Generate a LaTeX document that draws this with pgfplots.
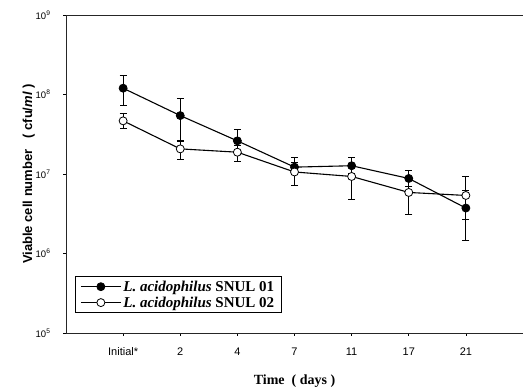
\documentclass[border=0pt]{standalone}
\usepackage{fontspec}
\setmainfont{Liberation Serif}
\setsansfont{Liberation Sans}
\usepackage{pgfplots}
\pgfplotsset{compat=1.18}
\begin{document}
\begin{tikzpicture}
\begin{axis}[
  scale only axis,
  width=457pt, height=318pt,
  ymode=log,
  ymin=1e5, ymax=1e9,
  xmin=-1, xmax=7,
  axis x line=box, axis y line=left,
  axis line style={-, line width=0.9pt, black!85},
  xtick={0,1,2,3,4,5,6},
  xticklabels={Initial*,2,4,7,11,17,21},
  x tick label style={font=\sffamily\fontsize{11}{12}\selectfont, yshift=-8pt},
  ytick={1e5,1e6,1e7,1e8,1e9},
  yticklabels={10\textsuperscript{5},10\textsuperscript{6},10\textsuperscript{7},10\textsuperscript{8},10\textsuperscript{9}},
  y tick label style={font=\sffamily\fontsize{9.5}{10}\selectfont, xshift=-9pt},
  yminorticks=false,
  tick align=outside,
  major tick length=3pt,
  tick style={black, line width=0.7pt},
  xtick pos=bottom,
  ylabel={\sffamily\bfseries Viable cell number\ \ \ ( cfu/\textit{ml} )},
  ylabel style={font=\fontsize{13}{14}\selectfont},
  ylabel shift=-6pt,
  xlabel={\bfseries Time\ \ ( days )},
  xlabel style={font=\fontsize{14}{15}\selectfont},
  xlabel shift=12pt,
  legend style={at={(0.0197,0.063)}, anchor=south west, draw=black, line width=0.8pt,
    font=\bfseries\fontsize{15}{16}\selectfont, row sep=0pt, inner ysep=2pt, inner xsep=5pt},
  legend cell align=left,
  legend image code/.code={\draw[mark repeat=2,mark phase=2,#1] plot coordinates {(0cm,0cm) (0.7cm,0cm) (1.4cm,0cm)};},
  every axis plot/.append style={line width=1.1pt},
]
\addplot[black, mark=*, mark size=4pt, mark options={fill=black, line width=0.8pt},
  error bars/.cd, y dir=both, y explicit,
  error bar style={line width=0.8pt},
  error mark options={rotate=90, mark size=3.5pt, line width=0.8pt}]
coordinates {
  (0,1.20e8) += (0,5.3e7) -= (0,4.74e7)
  (1,5.43e7) += (0,3.38e7) -= (0,2.87e7)
  (2,2.61e7) += (0,0.98e7) -= (0,0.71e7)
  (3,1.22e7) += (0,0.41e7) -= (0,0.22e7)
  (4,1.27e7) += (0,0.36e7) -= (0,0.24e7)
  (5,8.79e6) += (0,2.3e6) -= (0,1.79e6)
  (6,3.73e6) += (0,2.57e6) -= (0,2.27e6)
};
\addlegendentry{\textit{L. acidophilus} SNUL 01}
\addplot[black, mark=*, mark size=4pt, mark options={fill=white, line width=0.8pt},
  error bars/.cd, y dir=both, y explicit,
  error bar style={line width=0.8pt},
  error mark options={rotate=90, mark size=3.5pt, line width=0.8pt}]
coordinates {
  (0,4.66e7) += (0,1.16e7) -= (0,0.96e7)
  (1,2.07e7) += (0,0.57e7) -= (0,0.56e7)
  (2,1.88e7) += (0,0.38e7) -= (0,0.45e7)
  (3,1.06e7) += (0,0.35e7) -= (0,3.49e6)
  (4,9.31e6) += (0,4.4e6) -= (0,4.57e6)
  (5,5.86e6) += (0,2.64e6) -= (0,2.79e6)
  (6,5.37e6) += (0,3.94e6) -= (0,2.71e6)
};
\addlegendentry{\textit{L. acidophilus} SNUL 02}
\coordinate (bl) at (rel axis cs:0,0);
\coordinate (tr) at (rel axis cs:1,1);
\end{axis}
\pgfresetboundingbox
\path ([shift={(-66pt,-56pt)}]bl) rectangle ([shift={(0pt,15pt)}]tr);
\end{tikzpicture}
\end{document}
